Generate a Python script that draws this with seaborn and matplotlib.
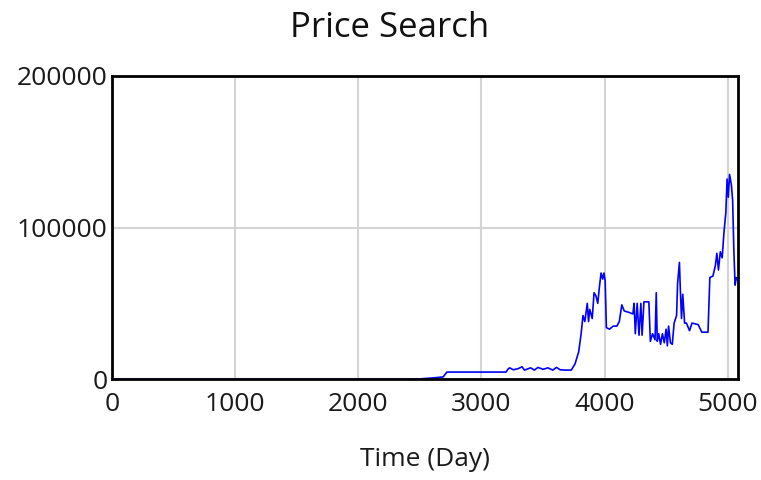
import matplotlib
matplotlib.use("Agg")
import matplotlib.pyplot as plt
import seaborn as sns
import pandas as pd

# Price Search over time
time_day = [0, 2400, 2500, 2600, 2690, 2720, 3200, 3215, 3230, 3260, 3300, 3330, 3350,
            3400, 3430, 3460, 3500, 3540, 3580, 3610, 3640, 3680, 3730, 3760, 3790,
            3810, 3825, 3840, 3860, 3870, 3880, 3900, 3915, 3930, 3945, 3960, 3972,
            3985, 3995, 4005, 4015, 4040, 4070, 4100, 4120, 4140, 4160, 4200, 4230,
            4240, 4250, 4265, 4280, 4295, 4305, 4320, 4360, 4372, 4390, 4410, 4420,
            4428, 4440, 4455, 4470, 4485, 4500, 4510, 4520, 4535, 4550, 4565, 4585,
            4593, 4608, 4615, 4625, 4635, 4650, 4665, 4690, 4710, 4760, 4790, 4840,
            4855, 4880, 4900, 4912, 4925, 4940, 4955, 4970, 4985, 4995, 5005, 5015,
            5030, 5040, 5050, 5060, 5070, 5085]
price_search = [0, 0, 200, 800, 1500, 4700, 4700, 6500, 7500, 6200, 7000, 8200, 6000,
                7500, 6000, 7800, 6500, 7500, 6000, 7800, 6200, 6000, 6000, 10000, 18000,
                30000, 42000, 38000, 50000, 38000, 46000, 40000, 57000, 55000, 50000, 62000, 70000,
                66000, 70000, 65000, 34000, 33000, 35000, 35000, 38000, 49000, 45000, 44000, 43000,
                50000, 30000, 50000, 29000, 50000, 29000, 51000, 51000, 25000, 30000, 26000, 57000,
                25000, 30000, 23000, 30000, 24000, 33000, 22000, 35000, 24000, 23000, 37000, 42000,
                63000, 77000, 60000, 40000, 56000, 37000, 37000, 32000, 37000, 36000, 31000, 31000,
                67000, 68000, 75000, 83000, 72000, 84000, 80000, 97000, 110000, 132000, 120000, 135000,
                128000, 118000, 85000, 62000, 67000, 65000]

x_ticks = [0, 1000, 2000, 3000, 4000, 5000]
y_ticks = [0, 100000, 200000]

sns.set_style("white")
plt.rcParams['font.family'] = ['Open Sans', 'DejaVu Sans']

df = pd.DataFrame({"Time": time_day, "Price": price_search})

fig = plt.figure(figsize=(7.61, 4.80), dpi=100)
ax = fig.add_axes([0.147, 0.210, 0.823, 0.632])

ax.grid(True, color="#d4d4d4", linewidth=1.5)
ax.set_axisbelow(True)
sns.lineplot(data=df, x="Time", y="Price", estimator=None, sort=False,
             color="#0000ff", linewidth=1.2, ax=ax)

ax.set_xlim(0, 5085)
ax.set_ylim(0, 200000)
ax.set_xticks(x_ticks)
ax.set_yticks(y_ticks)
ax.set_xticklabels([str(t) for t in x_ticks])
ax.set_yticklabels([str(t) for t in y_ticks])
ax.tick_params(length=0, labelsize=19, colors="#1a1a1a")
ax.tick_params(axis="y", pad=3)
ax.tick_params(axis="x", pad=9)

for s in ax.spines.values():
    s.set_color("black")
    s.set_linewidth(2)

fig.suptitle("Price Search", fontsize=25, x=0.512, y=0.977, va="top", color="#111111")
ax.set_xlabel("Time (Day)", fontsize=19, labelpad=22, color="#1a1a1a")
ax.set_ylabel("")

fig.savefig("out.png", dpi=100)
